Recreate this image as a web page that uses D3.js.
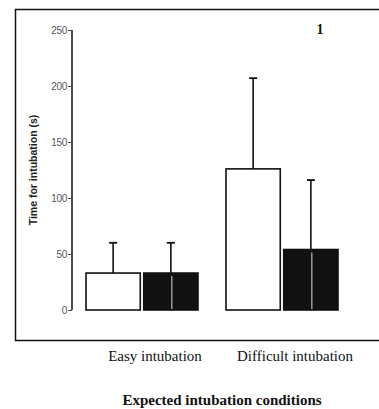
<!DOCTYPE html>
<html>
<head>
<meta charset="utf-8">
<script src="https://cdn.jsdelivr.net/npm/d3@7"></script>
<style>
  body { margin: 0; background: #fff; }
  svg { display: block; }
</style>
</head>
<body>
<div id="chart"></div>
<script>
// data
var conditions = ["Easy intubation", "Difficult intubation"];
var groups = ["open", "filled"];
var meanOpen = [33, 126];
var sdOpen = [27, 81];
var meanFilled = [33, 54];
var sdFilled = [27, 62];
var yTicks = [0, 50, 100, 150, 200, 250];

var W = 379, H = 409;

var svg = d3.select("#chart")
    .append("svg")
    .attr("width", W)
    .attr("height", H);

// frame around the plot
svg.append("rect")
    .attr("x", 15.5)
    .attr("y", 9.5)
    .attr("width", 400)
    .attr("height", 331)
    .attr("fill", "none")
    .attr("stroke", "#111")
    .attr("stroke-width", 1.5);

let y = d3.scaleLinear().domain([0, 250]).range([310, 30]);

let x0 = d3.scaleBand()
    .domain(conditions)
    .range([86, 338])
    .paddingInner(0.2)
    .paddingOuter(0);

let x1 = d3.scaleBand()
    .domain(groups)
    .range([0, x0.bandwidth()])
    .paddingInner(0.06);

let rows = [];
conditions.forEach(function (c, i) {
    rows.push({ cond: c, grp: "open", mean: meanOpen[i], sd: sdOpen[i] });
    rows.push({ cond: c, grp: "filled", mean: meanFilled[i], sd: sdFilled[i] });
});

// y axis
let yAxis = d3.axisLeft(y)
    .tickValues(yTicks)
    .tickSize(4)
    .tickPadding(1);

let ag = svg.append("g")
    .attr("transform", "translate(72,0)")
    .call(yAxis);
ag.select(".domain")
    .attr("d", "M0," + y(250) + "V" + y(0))
    .attr("stroke", "#222")
    .attr("stroke-width", 1.6);
ag.selectAll(".tick line").attr("stroke", "#444");
ag.selectAll(".tick text")
    .attr("font-family", "Liberation Sans, Arial, sans-serif")
    .attr("font-size", 10)
    .attr("letter-spacing", -0.3)
    .attr("fill", "#555");

svg.append("text")
    .attr("transform", "translate(37,170) rotate(-90)")
    .attr("text-anchor", "middle")
    .attr("font-family", "Liberation Sans, Arial, sans-serif")
    .attr("font-weight", "bold")
    .attr("font-size", 10.5)
    .attr("fill", "#222")
    .text("Time for intubation (s)");

// error bars (upward only)
let bars = svg.selectAll(".bar")
    .data(rows)
    .enter()
    .append("g")
    .attr("class", "bar")
    .attr("transform", function (d) {
        return "translate(" + (x0(d.cond) + x1(d.grp)) + ",0)";
    });

let bw = x1.bandwidth();

bars.append("line")
    .attr("x1", bw / 2)
    .attr("x2", bw / 2)
    .attr("y1", function (d) { return y(d.mean); })
    .attr("y2", function (d) { return y(d.mean + d.sd); })
    .attr("stroke", "#111")
    .attr("stroke-width", 1.6);

bars.append("line")
    .attr("x1", bw / 2 - 4)
    .attr("x2", bw / 2 + 4)
    .attr("y1", function (d) { return y(d.mean + d.sd); })
    .attr("y2", function (d) { return y(d.mean + d.sd); })
    .attr("stroke", "#111")
    .attr("stroke-width", 1.8);

bars.append("rect")
    .attr("x", 0)
    .attr("y", function (d) { return y(d.mean); })
    .attr("width", bw)
    .attr("height", function (d) { return y(0) - y(d.mean); })
    .attr("fill", function (d) { return d.grp === "open" ? "#fff" : "#111"; })
    .attr("stroke", "#111")
    .attr("stroke-width", 1.6);

// white gap line inside filled bars
bars.filter(function (d) { return d.grp === "filled"; })
    .append("line")
    .attr("x1", bw / 2 + 1)
    .attr("x2", bw / 2 + 1)
    .attr("y1", function (d) { return y(d.mean) + 3; })
    .attr("y2", y(0) - 1)
    .attr("stroke", "#ddd")
    .attr("stroke-width", 1);

// panel label
svg.append("text")
    .attr("x", 320)
    .attr("y", 34)
    .attr("text-anchor", "middle")
    .attr("font-family", "Liberation Serif, Times New Roman, serif")
    .attr("font-weight", "bold")
    .attr("font-size", 14)
    .attr("fill", "#111")
    .text("1");

// category labels under the frame
svg.selectAll(".cat")
    .data(conditions)
    .enter()
    .append("text")
    .attr("class", "cat")
    .attr("x", function (d) { return x0(d) + x0.bandwidth() / 2 + 13; })
    .attr("y", 361)
    .attr("text-anchor", "middle")
    .attr("font-family", "Liberation Serif, Times New Roman, serif")
    .attr("font-size", 15)
    .attr("fill", "#111")
    .text(function (d) { return d; });

svg.append("text")
    .attr("x", 222)
    .attr("y", 405)
    .attr("text-anchor", "middle")
    .attr("font-family", "Liberation Serif, Times New Roman, serif")
    .attr("font-weight", "bold")
    .attr("font-size", 15)
    .attr("fill", "#111")
    .text("Expected intubation conditions");
</script>
</body>
</html>
